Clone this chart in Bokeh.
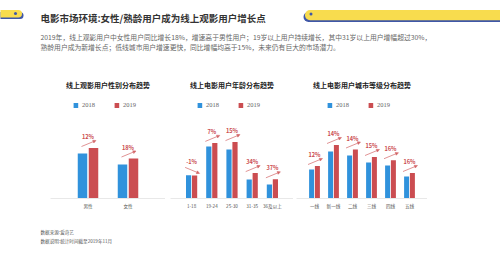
from bokeh.plotting import figure
from bokeh.models import (ColumnDataSource, FactorRange, Range1d, Legend, LegendItem,
                          Arrow, NormalHead, Spacer)
from bokeh.layouts import column, row
from bokeh.transform import dodge
from bokeh.core.properties import value
from bokeh.embed import file_html
from bokeh.resources import INLINE

# ---- data -------------------------------------------------------------
years = ["2018", "2019"]

gender = ["男性", "女性"]
gender_2018 = [45, 34]
gender_2019 = [50.5, 40]
gender_growth = ["12%", "18%"]

age = ["1-18", "19-24", "25-30", "31-35", "36及以上"]
age_2018 = [23.3, 52, 49, 19, 14]
age_2019 = [23.1, 55.6, 56.4, 25.4, 19.2]
age_growth = ["-1%", "7%", "15%", "34%", "37%"]

city = ["一线", "新一线", "二线", "三线", "四线", "五线"]
city_2018 = [29, 47, 43, 36, 33, 22]
city_2019 = [32.5, 53.5, 49, 41.5, 38.3, 25.5]
city_growth = ["12%", "14%", "14%", "15%", "16%", "16%"]

title_text = "电影市场环境:女性/熟龄用户成为线上观影用户增长点"
intro_lines = [
    "2019年，线上观影用户中女性用户同比增长18%，增速高于男性用户；19岁以上用户持续增长，其中31岁以上用户增幅超过30%，",
    "熟龄用户成为新增长点；低线城市用户增速更快，同比增幅均高于15%，未来仍有巨大的市场潜力。",
]
source_lines = ["数据来源:爱奇艺", "数据说明:统计时间截至2019年11月"]

# ---- style ------------------------------------------------------------
BLUE = "#3092dc"
RED = "#cb4d51"
ARROW = "#d26466"
YELLOW = "#f8dc4e"
NAVY = "#3f57a8"
CJK = value("Noto Sans CJK SC")
PANEL_H = 145
FRAME_H = 128


def bare(p):
    p.xgrid.visible = False
    p.ygrid.visible = False
    p.outline_line_color = None
    p.background_fill_color = "white"
    p.border_fill_color = "white"
    return p


def panel(title, cats, v18, v19, growth, width, unit_px, bar_px, gap_px):
    n = len(cats)
    # padding (in category units) added on each side of the factors
    side_pad = (width / unit_px - n) / 2
    xr = FactorRange(*cats, range_padding=side_pad, range_padding_units="absolute")
    p = figure(x_range=xr, y_range=Range1d(0, FRAME_H), width=width, height=PANEL_H,
               output_backend="svg", toolbar_location=None, y_axis_location=None,
               min_border_left=0, min_border_right=0, min_border_top=0,
               min_border_bottom=PANEL_H - FRAME_H)
    bare(p)

    bw = bar_px / unit_px
    off = (bar_px + gap_px) / 2 / unit_px
    centers = [i + 0.5 for i in range(n)]
    up = [not g.startswith("-") for g in growth]
    xs = [c - 6.5 / unit_px for c in centers]
    xe = [c + 8 / unit_px for c in centers]
    ys = [t + (1.5 if u else 8) for t, u in zip(v19, up)]
    ye = [t + (7.5 if u else 2) for t, u in zip(v19, up)]
    ly = [t + (11 if u else 13.5) for t, u in zip(v19, up)]

    src = ColumnDataSource(dict(cat=cats, v18=v18, v19=v19, growth=growth,
                                lx=centers, ly=ly, xs=xs, xe=xe, ys=ys, ye=ye))
    r18 = p.vbar(x=dodge("cat", -off, range=xr), top="v18", width=bw,
                 fill_color=BLUE, line_color=None, source=src)
    r19 = p.vbar(x=dodge("cat", off, range=xr), top="v19", width=bw,
                 fill_color=RED, line_color=None, source=src)

    p.add_layout(Arrow(x_start="xs", y_start="ys", x_end="xe", y_end="ye", source=src,
                       line_color=ARROW, line_width=0.7,
                       end=NormalHead(size=3, fill_color=ARROW, line_color=ARROW,
                                      line_width=0.5)))
    p.text(x="lx", y="ly", text="growth", source=src, text_font=CJK,
           text_font_style="bold", text_font_size="5.6px", text_color=RED,
           text_align="center", text_baseline="middle")

    # panel heading
    p.text(x=[n / 2], y=[FRAME_H - 14], text=[title], text_font=CJK,
           text_font_style="bold", text_font_size="7px", text_color="#222222",
           text_align="center", text_baseline="middle")

    legend = Legend(items=[LegendItem(label=years[0], renderers=[r18]),
                           LegendItem(label=years[1], renderers=[r19])],
                    orientation="horizontal", location="top_center",
                    border_line_color=None, background_fill_alpha=0,
                    glyph_width=6, glyph_height=6, label_height=7,
                    label_standoff=4, spacing=11, padding=0, margin=31,
                    label_text_font="Liberation Serif",
                    label_text_font_size="6.5px", label_text_color="#666666")
    p.add_layout(legend)

    ax = p.xaxis[0]
    ax.axis_line_color = "#e8e8e8"
    ax.axis_line_width = 1
    ax.major_tick_line_color = None
    ax.minor_tick_line_color = None
    ax.major_tick_out = 0
    ax.major_tick_in = 0
    ax.major_label_standoff = 4
    ax.major_label_text_font = "Noto Sans CJK SC"
    ax.major_label_text_font_size = "4.6px"
    ax.major_label_text_color = "#555555"
    return p


# ---- header -----------------------------------------------------------
hdr = bare(figure(width=500, height=70, x_range=Range1d(0, 500), y_range=Range1d(70, 0),
                  output_backend="svg", toolbar_location=None,
                  x_axis_location=None, y_axis_location=None,
                  min_border=0))
hdr.quad(left=[-10], right=[23], top=[11.5], bottom=[18.5], border_radius=4,
         fill_color=NAVY, line_color=None)
hdr.quad(left=[-10], right=[21.5], top=[9.5], bottom=[17], border_radius=4,
         fill_color=YELLOW, line_color=None)
hdr.scatter(x=[15], y=[13], size=3, fill_color=NAVY, line_color=None)
hdr.quad(left=[303], right=[510], top=[11.5], bottom=[21.5], border_radius=5,
         fill_color=NAVY, line_color=None)
hdr.quad(left=[304.5], right=[510], top=[9.5], bottom=[19.8], border_radius=5,
         fill_color=YELLOW, line_color=None)
hdr.scatter(x=[310.5], y=[13.5], size=3, fill_color=NAVY, line_color=None)
hdr.text(x=[40], y=[17.5], text=[title_text], text_font=CJK, text_font_style="bold",
         text_font_size="9.5px", text_color="#333333", text_baseline="middle")
hdr.text(x=[40, 40], y=[36, 46], text=intro_lines, text_font=CJK,
         text_font_size="6.8px", text_color="#666666", text_baseline="middle")

# ---- panels -----------------------------------------------------------
p1 = panel("线上观影用户性别分布趋势", gender, gender_2018, gender_2019, gender_growth,
           width=115, unit_px=40, bar_px=9.5, gap_px=1.5)
p2 = panel("线上电影用户年龄分布趋势", age, age_2018, age_2019, age_growth,
           width=123, unit_px=20.2, bar_px=5.2, gap_px=0.8)
p3 = panel("线上电影用户城市等级分布趋势", city, city_2018, city_2019, city_growth,
           width=131, unit_px=19, bar_px=5, gap_px=0.8)

# ---- footer -----------------------------------------------------------
ftr = bare(figure(width=500, height=38, x_range=Range1d(0, 500), y_range=Range1d(253, 215),
                  output_backend="svg", toolbar_location=None,
                  x_axis_location=None, y_axis_location=None,
                  min_border=0))
ftr.text(x=[40, 40], y=[231.5, 240], text=source_lines, text_font=CJK,
         text_font_size="4.6px", text_color="#555555", text_baseline="middle")

panels = row(Spacer(width=50, height=PANEL_H), p1, Spacer(width=5, height=PANEL_H), p2,
             Spacer(width=3, height=PANEL_H), p3, Spacer(width=73, height=PANEL_H),
             spacing=0)
page = column(hdr, panels, ftr, spacing=0)

open("out.html", "w").write(file_html(page, INLINE))
